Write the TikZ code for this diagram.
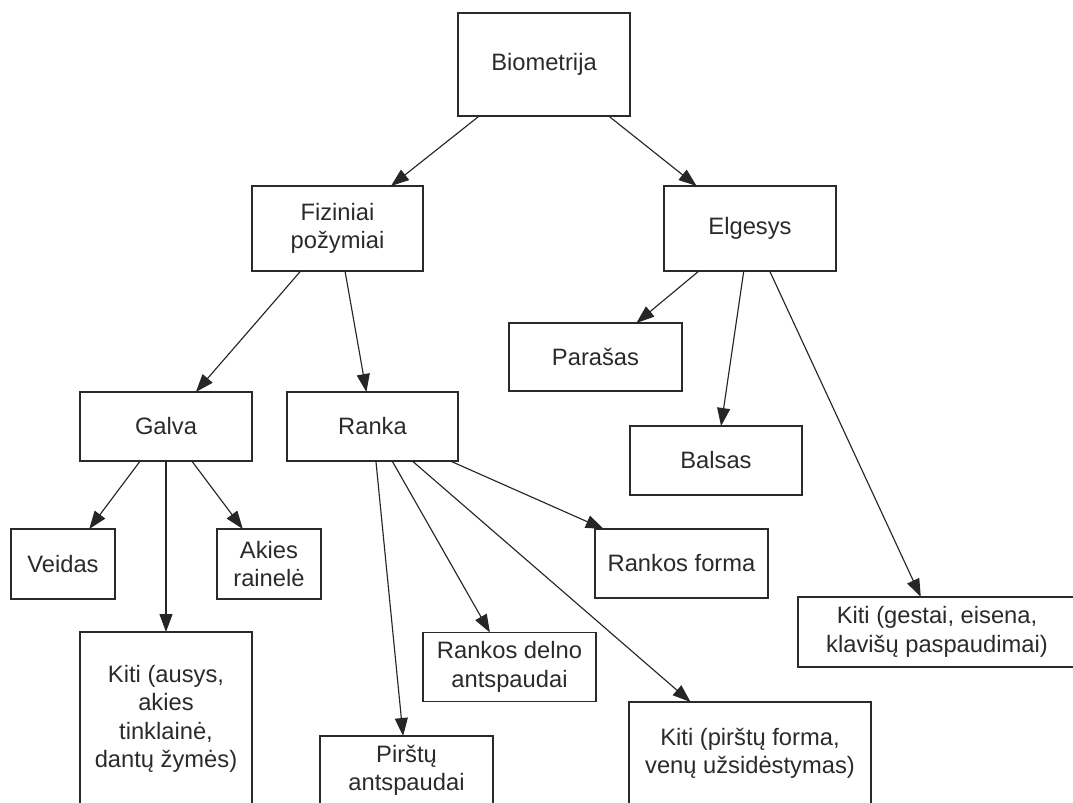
\documentclass[tikz,border=0pt]{standalone}
\usepackage{fontspec}
\setmainfont{Liberation Sans}
\usetikzlibrary{arrows.meta}
\definecolor{ink}{HTML}{2A2A2A}

\begin{document}
\begin{tikzpicture}[x=0.2mm,y=-0.2mm,
	box/.style={draw=ink,line width=1pt,text=ink,align=center,inner sep=0pt,outer sep=0pt,font=\fontsize{13.5}{16.2}\selectfont},
	wh/.style 2 args={minimum width=#1*0.2mm,minimum height=#2*0.2mm},
	arr/.style={draw=black!85,line width=0.65pt,-{Triangle[length=3.6mm,width=2.6mm]}}]
	\clip (0,0) rectangle (1073,803);
	\node[box,wh={172}{103}] (bio) at (544,64.5) {Biometrija};
	\node[box,wh={171}{85}] (fiz) at (337.5,228.5) {Fiziniai\\požymiai};
	\node[box,wh={172}{85}] (elg) at (750,228.5) {Elgesys};
	\node[box,wh={173}{68}] (par) at (595.5,357) {Parašas};
	\node[box,wh={172}{69}] (bal) at (716,460.5) {Balsas};
	\node[box,wh={172}{69}] (gal) at (166,426.5) {Galva};
	\node[box,wh={171}{69}] (ran) at (372.5,426.5) {Ranka};
	\node[box,wh={104}{70}] (vei) at (63,564) {Veidas};
	\node[box,wh={104}{70}] (aki) at (269,564) {Akies\\rainelė};
	\node[box,wh={173}{69}] (rfo) at (681.5,563.5) {Rankos forma};
	\node[box,wh={278}{70}] (kge) at (937,632) {Kiti (gestai, eisena,\\klavišų paspaudimai)};
	\node[box,wh={172}{174}] (kau) at (166,719) {Kiti (ausys,\\akies\\tinklainė,\\dantų žymės)};
	\node[box,wh={173}{69}] (rde) at (509.5,667) {Rankos delno\\antspaudai};
	\node[box,wh={173}{69}] (pir) at (406.5,770.5) {Pirštų\\antspaudai};
	\node[box,wh={242}{103}] (kpf) at (750,753.5) {Kiti (pirštų forma,\\venų užsidėstymas)};
	\draw[arr] (bio) -- (fiz);
	\draw[arr] (bio) -- (elg);
	\draw[arr] (fiz) -- (gal);
	\draw[arr] (fiz) -- (ran);
	\draw[arr] (elg) -- (par);
	\draw[arr] (elg) -- (bal);
	\draw[arr] (elg) -- (kge);
	\draw[arr] (gal) -- (vei);
	\draw[arr] (gal) -- (kau);
	\draw[arr] (gal) -- (aki);
	\draw[arr] (ran) -- (pir);
	\draw[arr] (ran) -- (rde);
	\draw[arr] (ran) -- (kpf);
	\draw[arr] (ran) -- (rfo);
\end{tikzpicture}
\end{document}
